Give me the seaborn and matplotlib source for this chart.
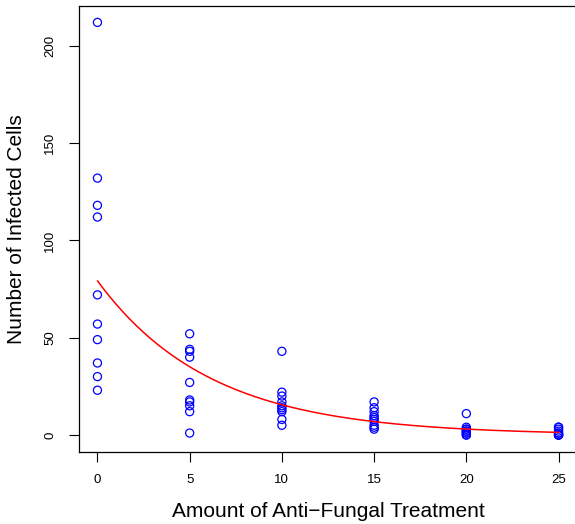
import numpy as np
import pandas as pd
import seaborn as sns
import matplotlib.pyplot as plt

# treatment amounts and infected cell counts
dose = [0, 5, 10, 15, 20, 25]
cells_0 = [212, 132, 118, 112, 72, 57, 49, 37, 30, 23]
cells_5 = [52, 44, 43, 40, 27, 18, 17, 15, 12, 1]
cells_10 = [43, 22, 20, 17, 15, 14, 13, 12, 8, 5]
cells_15 = [17, 14, 12, 10, 9, 8, 7, 5, 4, 3]
cells_20 = [11, 4, 3, 3, 2, 2, 1, 1, 0, 0]
cells_25 = [4, 4, 3, 2, 1, 1, 0, 0, 0, 0]

groups = [cells_0, cells_5, cells_10, cells_15, cells_20, cells_25]
df = pd.DataFrame({
    "dose": np.repeat(dose, [len(g) for g in groups]),
    "cells": np.concatenate(groups),
})

# poisson glm (log link) fitted by IRLS
X = np.column_stack([np.ones(len(df)), df["dose"].values.astype(float)])
yv = df["cells"].values.astype(float)
beta = np.array([np.log(yv.mean()), 0.0])
for _ in range(50):
    eta = X @ beta
    mu = np.exp(eta)
    z = eta + (yv - mu) / mu
    beta = np.linalg.solve(X.T @ (mu[:, None] * X), X.T @ (mu * z))

grid = np.linspace(0, 25, 200)
fit = pd.DataFrame({"dose": grid, "cells": np.exp(beta[0] + beta[1] * grid)})

sns.set_style("ticks")
plt.rcParams["font.family"] = ["Liberation Sans", "DejaVu Sans"]
plt.rcParams["text.color"] = "black"
plt.rcParams["axes.labelcolor"] = "black"
plt.rcParams["xtick.color"] = "black"
plt.rcParams["ytick.color"] = "black"

fig = plt.figure(figsize=(5.75, 5.24), dpi=100)
ax = fig.add_axes([79 / 575, 72.5 / 524, 498 / 575, 445.6 / 524])

sns.scatterplot(data=df, x="dose", y="cells", ax=ax, marker="o",
                facecolors="none", edgecolor="blue", color="blue",
                s=34, linewidth=0.9)
sns.lineplot(data=fit, x="dose", y="cells", ax=ax, color="red", linewidth=1.1)

ax.set_xlim(-1, 26)
ax.set_ylim(-8.48, 220.48)
ax.set_xticks([0, 5, 10, 15, 20, 25])
ax.set_yticks([0, 50, 100, 150, 200])
ax.tick_params(axis="both", direction="out", length=7.5, width=0.8,
               labelsize=9.5, pad=9, colors="black")
for lab in ax.get_yticklabels():
    lab.set_rotation(90)
    lab.set_va("center")
for sp in ax.spines.values():
    sp.set_visible(True)
    sp.set_color("black")
    sp.set_linewidth(0.9)

ax.set_xlabel("Amount of Anti\u2212Fungal Treatment", fontsize=15, labelpad=11,
              color="black")
ax.set_ylabel("Number of Infected Cells", fontsize=15, labelpad=13,
              color="black")

fig.savefig("out.png", dpi=100)
